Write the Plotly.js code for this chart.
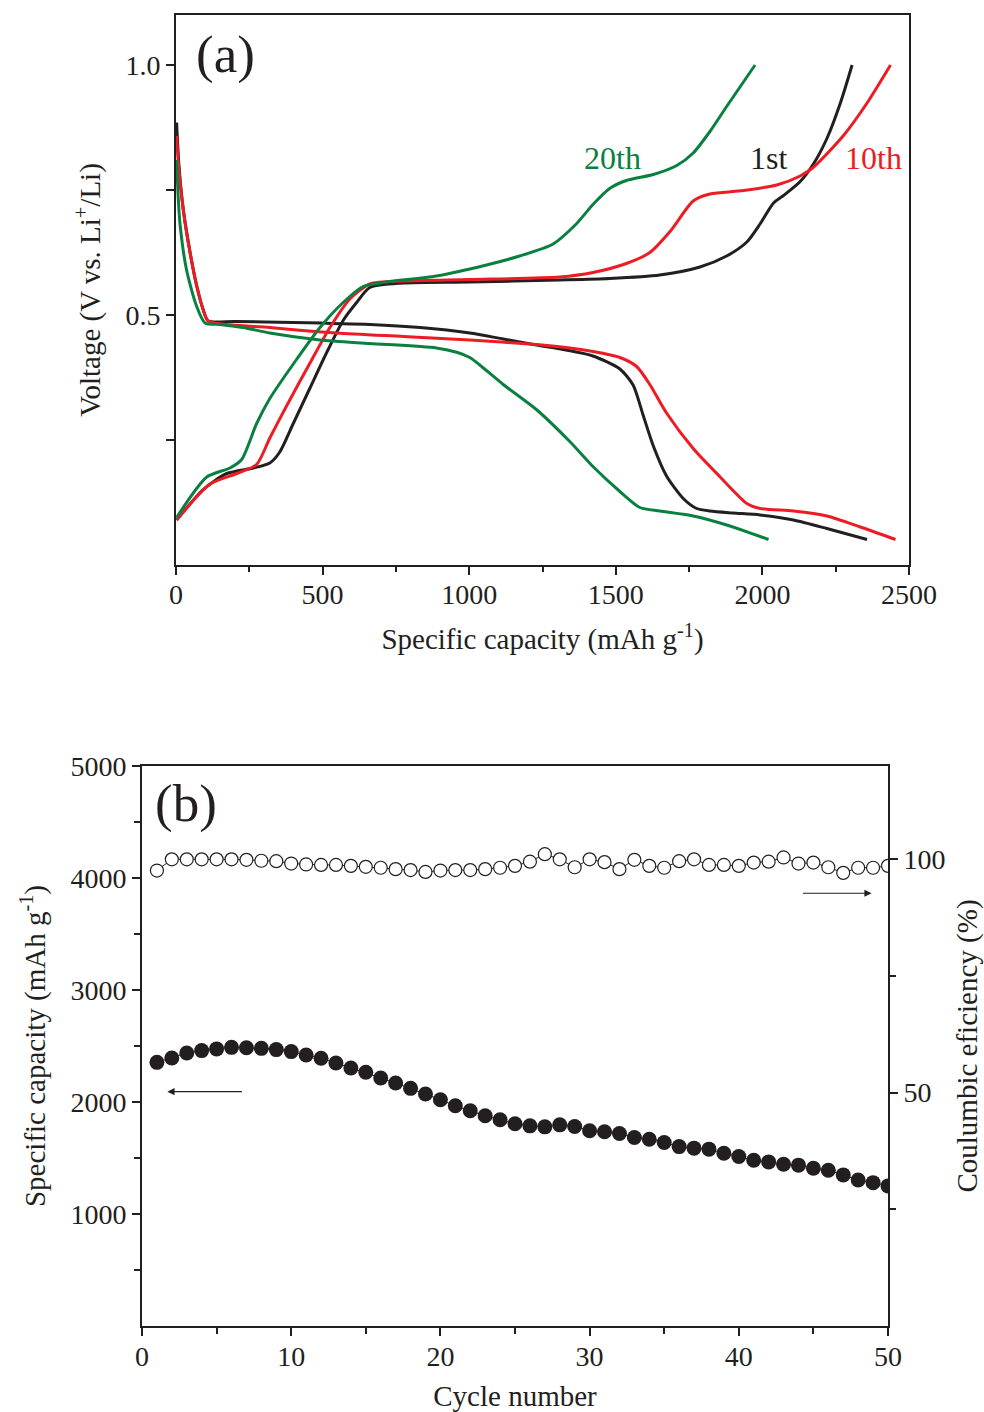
<!DOCTYPE html>
<html>
<head>
<meta charset="utf-8">
<script src="https://cdn.plot.ly/plotly-3.0.1.min.js"></script>
<style>html,body{margin:0;padding:0;background:#fff;}#chart{width:984px;height:1412px;}</style>
</head>
<body>
<div id="chart"></div>
<script>
// ---------- Panel (a): voltage profiles ----------
const dis1Cap = [2, 10, 25, 48, 70, 93, 110, 200, 400, 661, 832, 1002, 1116, 1229, 1330, 1422, 1514, 1559, 1593, 1628, 1673, 1730, 1776, 1821, 1900, 1992, 2106, 2220, 2357];
const dis1V   = [0.885, 0.80, 0.71, 0.625, 0.56, 0.51, 0.488, 0.487, 0.485, 0.481, 0.475, 0.464, 0.452, 0.440, 0.430, 0.418, 0.392, 0.360, 0.300, 0.238, 0.178, 0.133, 0.113, 0.108, 0.104, 0.100, 0.090, 0.073, 0.051];
const chg1Cap = [2, 93, 173, 264, 320, 354, 400, 457, 514, 570, 616, 661, 775, 1002, 1308, 1479, 1650, 1787, 1878, 1947, 1992, 2038, 2072, 2129, 2175, 2220, 2266, 2306];
const chg1V   = [0.09, 0.151, 0.183, 0.194, 0.204, 0.226, 0.283, 0.354, 0.425, 0.489, 0.525, 0.555, 0.564, 0.566, 0.570, 0.573, 0.580, 0.596, 0.618, 0.646, 0.682, 0.724, 0.739, 0.767, 0.803, 0.853, 0.924, 1.0];

const dis10Cap = [2, 10, 25, 48, 70, 93, 110, 320, 548, 775, 1002, 1229, 1330, 1422, 1514, 1571, 1616, 1673, 1764, 1856, 1947, 1992, 2106, 2220, 2334, 2454];
const dis10V   = [0.858, 0.79, 0.71, 0.625, 0.56, 0.51, 0.488, 0.475, 0.464, 0.457, 0.450, 0.441, 0.435, 0.427, 0.415, 0.397, 0.361, 0.304, 0.233, 0.176, 0.123, 0.113, 0.108, 0.098, 0.076, 0.051];
const chg10Cap = [2, 116, 207, 275, 320, 377, 457, 525, 593, 661, 775, 1002, 1308, 1422, 1536, 1616, 1685, 1764, 1821, 1935, 2049, 2129, 2175, 2278, 2357, 2437];
const chg10V   = [0.09, 0.162, 0.183, 0.201, 0.254, 0.318, 0.404, 0.475, 0.532, 0.562, 0.568, 0.571, 0.576, 0.585, 0.603, 0.625, 0.667, 0.728, 0.742, 0.749, 0.760, 0.778, 0.796, 0.860, 0.924, 1.0];

const dis20Cap = [2, 8, 14, 36, 70, 99, 150, 229, 320, 491, 661, 888, 960, 1002, 1036, 1116, 1229, 1343, 1422, 1514, 1582, 1650, 1764, 1878, 2021];
const dis20V   = [0.81, 0.73, 0.68, 0.59, 0.518, 0.484, 0.481, 0.475, 0.464, 0.450, 0.443, 0.434, 0.425, 0.415, 0.400, 0.361, 0.311, 0.247, 0.197, 0.147, 0.115, 0.108, 0.098, 0.080, 0.051];
const chg20Cap = [2, 105, 184, 224, 275, 320, 411, 491, 570, 638, 718, 888, 1059, 1172, 1286, 1365, 1422, 1479, 1536, 1628, 1708, 1764, 1821, 1878, 1975];
const chg20V   = [0.095, 0.176, 0.194, 0.211, 0.283, 0.333, 0.411, 0.475, 0.525, 0.557, 0.566, 0.578, 0.600, 0.618, 0.642, 0.682, 0.721, 0.753, 0.769, 0.781, 0.799, 0.824, 0.867, 0.917, 1.0];

const cycleLabels = ["1st", "10th", "20th"];
const labelCap = [2020, 2380, 1490];
const labelV = [0.815, 0.815, 0.815];

// ---------- Panel (b): cycling ----------
const cycles = [];
for (let i = 1; i <= 50; i++) cycles.push(i);
const capacity = [2354, 2393, 2438, 2459, 2474, 2488, 2484, 2479, 2468, 2450,
                  2420, 2390, 2348, 2304, 2265, 2214, 2169, 2122, 2071, 2020,
                  1966, 1922, 1877, 1841, 1806, 1787, 1778, 1796, 1781, 1743,
                  1734, 1719, 1683, 1668, 1638, 1602, 1588, 1579, 1543, 1513,
                  1480, 1465, 1444, 1436, 1409, 1391, 1349, 1304, 1280, 1251];
const efficiency = [97.6, 100.0, 100.0, 100.0, 100.0, 100.0, 99.9, 99.7, 99.6, 99.1,
                    98.9, 98.8, 98.8, 98.6, 98.4, 98.2, 97.9, 97.7, 97.3, 97.6,
                    97.7, 97.7, 97.9, 98.2, 98.6, 99.5, 101.1, 100.0, 98.3, 100.0,
                    99.4, 97.9, 99.9, 98.6, 98.2, 99.6, 100.0, 98.8, 98.8, 98.6,
                    99.3, 99.5, 100.4, 99.1, 99.3, 98.3, 97.1, 98.2, 98.2, 98.6];

const BLACK = '#231f20', RED = '#ed1c24', GREEN = '#0a8040';
const FONT = 'Liberation Serif, Times New Roman, serif';

function curve(x, y, color) {
  return {x: x, y: y, type: 'scatter', mode: 'lines', xaxis: 'x', yaxis: 'y',
          line: {color: color, width: 3, shape: 'spline', smoothing: 0.7},
          showlegend: false, hoverinfo: 'skip'};
}

const traces = [
  curve(dis1Cap, dis1V, BLACK), curve(chg1Cap, chg1V, BLACK),
  curve(dis10Cap, dis10V, RED), curve(chg10Cap, chg10V, RED),
  curve(dis20Cap, dis20V, GREEN), curve(chg20Cap, chg20V, GREEN),
  {x: cycles, y: capacity, type: 'scatter', mode: 'lines+markers', xaxis: 'x2', yaxis: 'y2',
   line: {color: BLACK, width: 1}, marker: {color: BLACK, size: 15, symbol: 'circle'},
   showlegend: false, cliponaxis: true},
  {x: cycles, y: efficiency, type: 'scatter', mode: 'lines+markers', xaxis: 'x2', yaxis: 'y3',
   line: {color: BLACK, width: 1}, marker: {color: '#fff', size: 13, symbol: 'circle', line: {color: BLACK, width: 1.2}},
   showlegend: false, cliponaxis: true}
];

const tickFont = {family: FONT, size: 28, color: BLACK};
const titleFont = {family: FONT, size: 29, color: BLACK};
const common = {showgrid: false, zeroline: false, showline: true, linecolor: BLACK, linewidth: 2,
                ticks: 'outside', ticklen: 8, tickwidth: 2, tickcolor: BLACK, tickfont: tickFont};

const layout = {
  width: 984, height: 1412,
  margin: {l: 0, r: 0, t: 0, b: 0},
  paper_bgcolor: '#fff', plot_bgcolor: '#fff',
  font: {family: FONT, color: BLACK},
  xaxis: Object.assign({}, common, {
    domain: [176/984, 909/984], anchor: 'y', range: [0, 2500],
    tickvals: [0, 500, 1000, 1500, 2000, 2500],
    minor: {tickvals: [250, 750, 1250, 1750, 2250], ticklen: 5, tickwidth: 2, tickcolor: BLACK, ticks: 'outside'},
    mirror: true, ticklabelstandoff: -5,
    title: {text: 'Specific capacity (mAh g<sup>-1</sup>)', font: titleFont, standoff: 20}
  }),
  yaxis: Object.assign({}, common, {
    domain: [1 - 565/1412, 1 - 15/1412], anchor: 'x', range: [0, 1.1],
    tickvals: [0.5, 1.0], ticktext: ['0.5', '1.0'],
    minor: {tickvals: [0.25, 0.75], ticklen: 8, tickwidth: 2, tickcolor: BLACK, ticks: 'outside'},
    mirror: true,
    title: {text: 'Voltage (V vs. Li<sup>+</sup>/Li)', font: titleFont, standoff: 16}
  }),
  xaxis3: {overlaying: 'x', anchor: 'y', side: 'top', range: [0, 2500], showgrid: false, zeroline: false,
           showline: false, showticklabels: false, ticks: 'inside', ticklen: 6, tickwidth: 2, tickcolor: BLACK,
           tickvals: [250, 500, 750, 1000, 1250, 1500, 1750, 2000, 2250]},
  yaxis4: {overlaying: 'y', anchor: 'x', side: 'right', range: [0, 1.1], showgrid: false, zeroline: false,
           showline: false, showticklabels: false, ticks: 'inside', ticklen: 6, tickwidth: 2, tickcolor: BLACK,
           tickvals: [0.25, 0.5, 0.75, 1.0]},
  xaxis2: Object.assign({}, common, {
    domain: [142/984, 888/984], anchor: 'y2', range: [0, 50],
    tickvals: [0, 10, 20, 30, 40, 50],
    minor: {tickvals: [5, 15, 25, 35, 45], ticklen: 6, tickwidth: 2, tickcolor: BLACK, ticks: 'outside'},
    mirror: true, ticklabelstandoff: -4,
    title: {text: 'Cycle number', font: titleFont, standoff: 16}
  }),
  yaxis2: Object.assign({}, common, {
    domain: [1 - 1326/1412, 1 - 766/1412], anchor: 'x2', range: [0, 5000],
    tickvals: [1000, 2000, 3000, 4000, 5000],
    minor: {tickvals: [500, 1500, 2500, 3500, 4500], ticklen: 6, tickwidth: 2, tickcolor: BLACK, ticks: 'outside'},
    title: {text: 'Specific capacity (mAh g<sup>-1</sup>)', font: titleFont, standoff: 16}
  }),
  yaxis3: Object.assign({}, common, {
    overlaying: 'y2', anchor: 'x2', side: 'right', range: [0, 120],
    tickvals: [50, 100],
    minor: {tickvals: [25, 75], ticklen: 6, tickwidth: 2, tickcolor: BLACK, ticks: 'outside'},
    title: {text: 'Coulumbic eficiency (%)', font: titleFont, standoff: 16}
  }),
  annotations: [
    {text: '(a)', xref: 'paper', yref: 'paper', x: 194/984, y: 1 - 55/1412, xanchor: 'left', yanchor: 'middle',
     showarrow: false, font: {family: FONT, size: 53, color: BLACK}},
    {text: '(b)', xref: 'paper', yref: 'paper', x: 153/984, y: 1 - 803/1412, xanchor: 'left', yanchor: 'middle',
     showarrow: false, font: {family: FONT, size: 53, color: BLACK}},
    {text: cycleLabels[0], xref: 'x', yref: 'y', x: labelCap[0], y: labelV[0], showarrow: false,
     font: {family: FONT, size: 32, color: BLACK}},
    {text: cycleLabels[1], xref: 'x', yref: 'y', x: labelCap[1], y: labelV[1], showarrow: false,
     font: {family: FONT, size: 32, color: RED}},
    {text: cycleLabels[2], xref: 'x', yref: 'y', x: labelCap[2], y: labelV[2], showarrow: false,
     font: {family: FONT, size: 32, color: GREEN}},
    {text: '', xref: 'x2', yref: 'y2', axref: 'x2', ayref: 'y2', x: 1.7, y: 2092, ax: 6.8, ay: 2092,
     showarrow: true, arrowhead: 2, arrowsize: 1.2, arrowwidth: 1.2, arrowcolor: BLACK},
    {text: '', xref: 'x2', yref: 'y2', axref: 'x2', ayref: 'y2', x: 48.9, y: 3864, ax: 44.2, ay: 3864,
     showarrow: true, arrowhead: 2, arrowsize: 1.2, arrowwidth: 1.2, arrowcolor: BLACK}
  ]
};

Plotly.newPlot('chart', traces, layout, {displayModeBar: false, staticPlot: true});
</script>
</body>
</html>
